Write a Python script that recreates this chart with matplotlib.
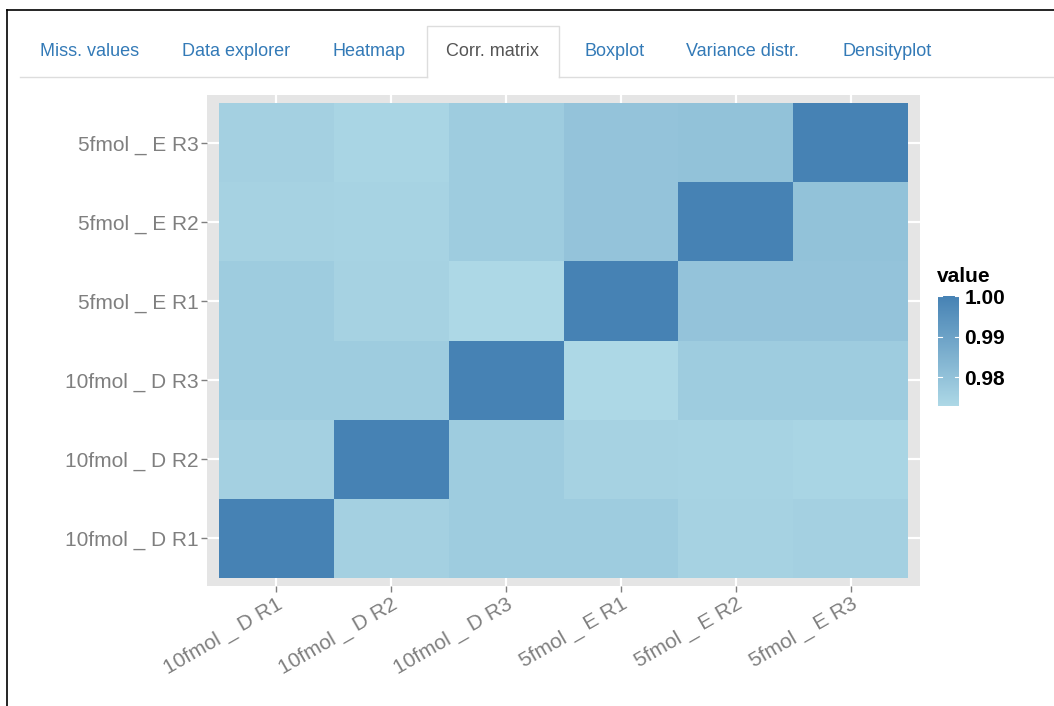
import numpy as np
import matplotlib
matplotlib.use("Agg")
import matplotlib.pyplot as plt
from matplotlib.colors import LinearSegmentedColormap
from matplotlib.lines import Line2D

plt.rcParams["font.family"] = ["Liberation Sans", "DejaVu Sans"]

samples = ["10fmol _ D R1", "10fmol _ D R2", "10fmol _ D R3",
           "5fmol _ E R1", "5fmol _ E R2", "5fmol _ E R3"]

# correlation matrix (rows/cols in the same order as samples)
corr = np.array([
    [1.000, 0.9755, 0.977, 0.977, 0.975, 0.9755],
    [0.9755, 1.000, 0.977, 0.975, 0.9745, 0.974],
    [0.977, 0.977, 1.000, 0.973, 0.977, 0.977],
    [0.977, 0.975, 0.973, 1.000, 0.9795, 0.9795],
    [0.975, 0.9745, 0.977, 0.9795, 1.000, 0.980],
    [0.9755, 0.974, 0.977, 0.9795, 0.980, 1.000],
])

tabs = ["Miss. values", "Data explorer", "Heatmap", "Corr. matrix",
        "Boxplot", "Variance distr.", "Densityplot"]
tab_x = [40, 182, 332, 446, 584, 686, 843]
active_tab = "Corr. matrix"

legend_ticks = [0.98, 0.99, 1.00]

W, H = 1054, 706
fig = plt.figure(figsize=(W / 100, H / 100), dpi=100)
fig.patch.set_facecolor("white")


def fx(px):
    return px / W


def fy(py):
    return 1 - py / H


# page frame lines
fig.add_artist(Line2D([fx(7), 1], [fy(10), fy(10)], color="black", lw=1.2))
fig.add_artist(Line2D([fx(7), fx(7)], [fy(10), 0], color="black", lw=1.2))

# tab bar
fig.add_artist(Line2D([fx(20), fx(427)], [fy(76.5), fy(76.5)], color="#dddddd", lw=1))
fig.add_artist(Line2D([fx(559), 1], [fy(76.5), fy(76.5)], color="#dddddd", lw=1))
fig.add_artist(Line2D([fx(427), fx(427), fx(559), fx(559)],
                      [fy(76.5), fy(26), fy(26), fy(76.5)], color="#dddddd", lw=1))
for name, x in zip(tabs, tab_x):
    col = "#555555" if name == active_tab else "#337ab7"
    fig.text(fx(x), fy(52), name, color=col, fontsize=13, va="center", ha="left")

# heatmap panel
ax = fig.add_axes([fx(207), fy(586), fx(920) - fx(207), fy(95) - fy(586)])
ax.set_facecolor("#e5e5e5")
cmap = LinearSegmentedColormap.from_list("lb_sb", ["#add8e6", "#4682b4"])
vmin, vmax = corr.min(), corr.max()
edges = np.arange(len(samples) + 1) - 0.5
mesh = ax.pcolormesh(edges, edges, corr, cmap=cmap, vmin=vmin, vmax=vmax, zorder=2)
ax.set_xlim(-0.605, len(samples) - 0.395)
ax.set_ylim(-0.605, len(samples) - 0.395)
ax.set_xticks(range(len(samples)))
ax.set_yticks(range(len(samples)))
ax.grid(True, color="white", lw=1.6, zorder=1)
ax.set_axisbelow(True)
for s in ax.spines.values():
    s.set_visible(False)
ax.tick_params(length=4, width=1, color="#7f7f7f", labelcolor="#7f7f7f",
               labelsize=15, pad=2)
ax.set_yticklabels(samples)
ax.set_xticklabels(samples, rotation=30, ha="right", rotation_mode="anchor")

# colourbar legend
cax = fig.add_axes([fx(938), fy(406), fx(959) - fx(938), fy(296) - fy(406)])
cb = fig.colorbar(mesh, cax=cax, ticks=legend_ticks)
cb.outline.set_visible(False)
cb.ax.tick_params(length=0, labelsize=15, pad=4)
cb.ax.set_yticklabels([f"{v:.2f}" for v in legend_ticks])
for t in cb.ax.get_yticklabels():
    t.set_fontweight("bold")
for v in legend_ticks:
    cb.ax.plot([0, 0.2], [v, v], color="white", lw=0.8, transform=cb.ax.get_yaxis_transform())
    cb.ax.plot([0.8, 1], [v, v], color="white", lw=0.8, transform=cb.ax.get_yaxis_transform())
fig.text(fx(937), fy(277), "value", fontsize=15, fontweight="bold", va="center", ha="left")

fig.savefig("out.png", dpi=100)
